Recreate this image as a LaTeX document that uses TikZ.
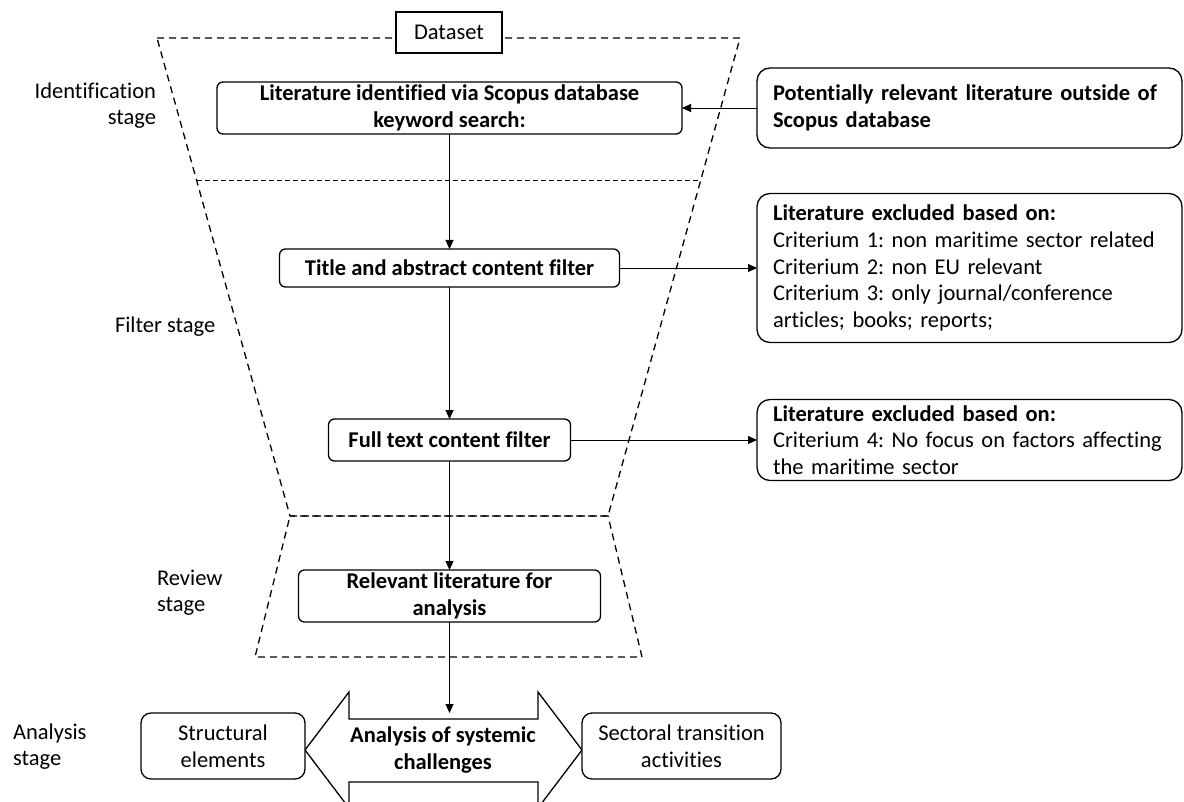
\documentclass[tikz,border=0pt]{standalone}
\usepackage{fontspec}
\setmainfont{Carlito}[Ligatures=NoCommon]
\usetikzlibrary{arrows.meta}
\newcommand\figfont{\fontsize{22.5pt}{26.6pt}\selectfont\frenchspacing}

\begin{document}
\begin{tikzpicture}[y=1pt, x=1pt, yscale=-1, inner sep=0pt, outer sep=0pt,
  stepbox/.style={draw=black, fill=white, line width=1.3pt, rounded corners=6pt,
    align=center, font=\figfont\bfseries},
  sidebox/.style={draw=black, fill=white, line width=1.3pt, rounded corners=13pt,
    align=left, text width=393pt, inner xsep=16pt, minimum height=#1, font=\figfont},
  stagelabel/.style={font=\figfont},
  funnel/.style={draw=black, line width=1.3pt, dash pattern=on 7pt off 5pt, line join=miter},
  flow/.style={draw=black, line width=0.9pt, -{Triangle[length=9pt,width=8pt]}}]
  \useasboundingbox (0,0) rectangle (1184,802);
  \path[funnel] (157,38) -- (740,38) -- (608,516) -- (290,516) -- cycle;
  \path[funnel] (290,516) -- (608,516) -- (642,657) -- (255,657) -- cycle;
  \path[draw=black, line width=0.9pt, dash pattern=on 5pt off 3pt] (197,180) -- (700,180);
  \node[draw=black, fill=white, line width=1.3pt, minimum width=106pt,
    minimum height=41pt, font=\figfont] (dataset) at (449,32.5) {Dataset};
  \node[stepbox, minimum width=465pt, minimum height=52pt] (identified) at (449.5,108)
    {Literature identified via Scopus database\\keyword search:};
  \node[sidebox=80pt] (outside) at (969.5,108)
    {\bfseries Potentially relevant literature outside of\\Scopus database};
  \node[stepbox, minimum width=340pt, minimum height=38pt] (abstract) at (449.5,268)
    {Title and abstract content filter};
  \node[sidebox=149pt] (excluded1) at (969.5,268)
    {{\bfseries Literature excluded based on:}\\Criterium 1: non maritime sector related\\
     Criterium 2: non EU relevant\\Criterium 3: only journal/conference\\
     articles; books; reports;};
  \node[stepbox, minimum width=242pt, minimum height=42pt] (fulltext) at (449.5,440)
    {Full text content filter};
  \node[sidebox=81pt] (excluded2) at (969.5,440)
    {{\bfseries Literature excluded based on:}\\Criterium 4: No focus on factors affecting\\
     the maritime sector};
  \node[stepbox, minimum width=302pt, minimum height=52pt] (relevant) at (449.5,596)
    {Relevant literature for\\analysis};
  \path[draw=black, fill=white, line width=1.3pt, line join=miter] (305,750) --
    (349,692) -- (349,719) -- (538,719) -- (538,692) -- (582,750) -- (538,808) --
    (538,782) -- (349,782) -- (349,808) -- cycle;
  \coordinate (shafttop) at (449.5,719);
  \node[font=\figfont\bfseries, align=center] (challenges) at (443,750)
    {Analysis of systemic\\challenges};
  \node[stepbox, font=\figfont, rounded corners=10pt, minimum width=164pt,
    minimum height=66pt] (structural) at (223,746) {Structural\\elements};
  \node[stepbox, font=\figfont, rounded corners=10pt, minimum width=199pt,
    minimum height=66pt] (sectoral) at (681.5,746) {Sectoral transition\\activities};
  \node[stagelabel, align=right, anchor=east] (identstage) at (156,105.5)
    {Identification\\stage};
  \node[stagelabel, anchor=west] (filterstage) at (115,327) {Filter stage};
  \node[stagelabel, align=left, anchor=west] (reviewstage) at (157,592.5)
    {Review\\stage};
  \node[stagelabel, align=left, anchor=west] (analysisstage) at (13,746.5)
    {Analysis\\stage};
  \draw[flow] (outside) -- (identified);
  \draw[flow] (identified) -- (abstract);
  \draw[flow] (abstract) -- (excluded1);
  \draw[flow] (abstract) -- (fulltext);
  \draw[flow] (fulltext) -- (excluded2);
  \draw[flow] (fulltext) -- (relevant);
  \draw[flow, shorten >=6pt] (relevant) -- (shafttop);
\end{tikzpicture}
\end{document}
